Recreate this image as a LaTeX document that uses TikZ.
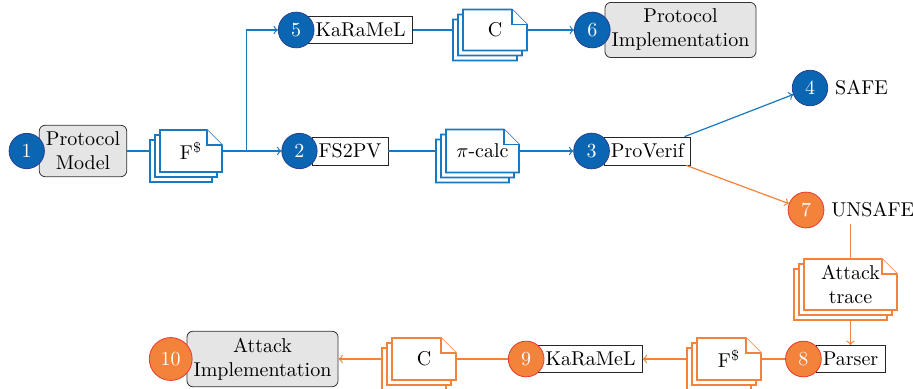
\documentclass[tikz,border=0pt]{standalone}
\usepackage{tikz}
\usetikzlibrary{calc,positioning}

\definecolor{pblue}{HTML}{0A66B2}
\definecolor{pbluedark}{HTML}{27408F}
\definecolor{pblueline}{HTML}{1878C0}
\definecolor{porange}{HTML}{F3823A}
\definecolor{pred}{HTML}{E8392F}

\tikzset{
  num/.style={circle, fill=pblue, draw=pbluedark, text=white, inner sep=3.33pt},
  numo/.style={circle, fill=porange, draw=pred, text=white, inner sep=3.33pt},
  box/.style={draw=black!85, fill=white},
  gbox/.style={draw=black!80, fill=black!10, rounded corners=3pt, align=center},
  doc/.style={rectangle, inner sep=0pt, align=center, text=black},
  bline/.style={pblueline, semithick},
  oline/.style={porange, semithick},
}

\def\docstack[#1](#2)(#3:#4)#5#6{%
  \foreach \s in {10,5,0}{%
    \draw[#1,thick,fill=white,shift={(-\s,\s)}]
      ($(#2)+({-#3/2},{-#4/2})$) -- ($(#2)+({#3/2-15},{-#4/2})$)
      -- ($(#2)+({#3/2},{-#4/2+15})$) -- ($(#2)+({#3/2},{#4/2})$)
      -- ($(#2)+({-#3/2},{#4/2})$) -- cycle;
    \draw[#1,thick,fill=white,shift={(-\s,\s)}]
      ($(#2)+({#3/2-15},{-#4/2})$) -- ++(0,15) -- ++(15,0);
  }
  \node[doc,minimum width=#3*0.5pt,minimum height=#4*0.5pt] (#5) at (#2) {#6};
  \coordinate (#5-in) at ($(#5.west)+(-10,0)$);
  \coordinate (#5-out) at ($(#5.south)+(0,10)$);
}

\begin{document}
\begin{tikzpicture}[x=0.5pt,y=-0.5pt]
  \useasboundingbox (0,0) rectangle (913,389);

  %%%%% boxes %%%%%
  \node[gbox] (pm) at (83,151) {Protocol\\Model};
  \node[box] (fs2pv) at (350,151) {FS2PV};
  \node[box] (pv) at (647.5,151) {ProVerif};
  \node[box] (krt) at (360.5,30) {KaRaMeL};
  \node[gbox] (pimpl) at (680.5,30) {Protocol\\Implementation};
  \node[box] (parser) at (850.5,359) {Parser};
  \node[box] (krb) at (590.5,359) {KaRaMeL};
  \node[gbox] (aimpl) at (262.5,359) {Attack\\Implementation};

  %%%%% numbers %%%%%
  \node[num, left=-3pt of pm] (c1) {1};
  \node[num, left=-3pt of fs2pv] (c2) {2};
  \node[num, left=-3pt of pv] (c3) {3};
  \node[num] (c4) at (810,88) {4};
  \node[right=0pt of c4] (safe) {SAFE};
  \node[num, left=-3pt of krt] (c5) {5};
  \node[num, left=-3pt of pimpl] (c6) {6};
  \node[numo] (c7) at (806,210) {7};
  \node[right=0pt of c7] (unsafe) {UNSAFE};
  \node[numo, left=-3pt of parser] (c8) {8};
  \node[numo, left=-3pt of krb] (c9) {9};
  \node[numo, left=-3pt of aimpl] (c10) {10};

  %%%%% documents %%%%%
  \docstack[pblueline](191,151)(62:42){fsa}{F$^{\$}$}
  \docstack[pblueline](482.5,151)(73:43){pic}{$\pi$-calc}
  \docstack[pblueline](495,30)(64:41){cfa}{C}
  \docstack[porange](850.5,284.5)(93:51){trace}{Attack\\trace}
  \docstack[porange](729,359)(64:42){fsb}{F$^{\$}$}
  \docstack[porange](424,359)(64:42){cfb}{C}

  %%%%% connectors %%%%%
  \coordinate (split) at ($(fsa.east)+(24,0)$);
  \draw[bline] (pm) -- (fsa-in);
  \draw[bline,->] (fsa) -- (c2);
  \draw[bline,->] (split) |- (c5);
  \draw[bline] (fs2pv) -- (pic-in);
  \draw[bline,->] (pic) -- (c3);
  \draw[bline] (krt) -- (cfa-in);
  \draw[bline,->] (cfa) -- (c6);
  \draw[bline,->] (pv) -- (c4);

  \draw[oline,->] (pv) -- (c7);
  \draw[oline] (trace.north |- unsafe.south) -- (trace.north);
  \draw[oline,->] (trace-out) -- (parser);
  \draw[oline] (c8) -- (fsb);
  \draw[oline,->] (fsb-in) -- (krb);
  \draw[oline] (c9) -- (cfb);
  \draw[oline,->] (cfb-in) -- (aimpl);
\end{tikzpicture}
\end{document}
